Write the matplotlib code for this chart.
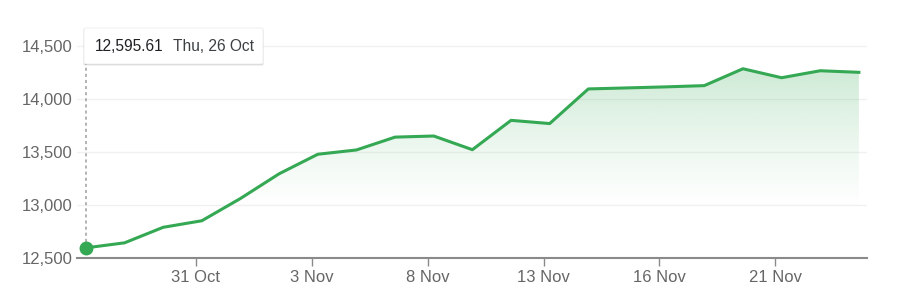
import matplotlib
matplotlib.use("Agg")
import matplotlib.pyplot as plt
import numpy as np
from matplotlib.patches import FancyBboxPatch, Polygon

dates = ["26 Oct", "27 Oct", "30 Oct", "31 Oct", "1 Nov", "2 Nov", "3 Nov",
         "6 Nov", "7 Nov", "8 Nov", "9 Nov", "10 Nov", "13 Nov", "14 Nov",
         "15 Nov", "16 Nov", "17 Nov", "20 Nov", "21 Nov", "22 Nov", "24 Nov"]
values = [12595.61, 12643.01, 12789.48, 12851.24, 13061.47, 13294.19, 13478.28,
          13518.78, 13639.86, 13650.41, 13521.45, 13798.11, 13767.74, 14094.38,
          14103.84, 14113.67, 14125.48, 14284.53, 14199.98, 14265.86, 14250.85]
tick_labels = ["31 Oct", "3 Nov", "8 Nov", "13 Nov", "16 Nov", "21 Nov"]
y_ticks = [12500, 13000, 13500, 14000, 14500]
tooltip_value = "12,595.61"
tooltip_date = "Thu, 26 Oct"

plt.rcParams['font.family'] = ['Liberation Sans', 'DejaVu Sans']

GREEN = "#34a853"
fig = plt.figure(figsize=(9.03, 3.03), dpi=100)
ax = fig.add_axes([77/903, 1-258/303, (867-77)/903, (258-30)/303])

x = np.arange(len(values))
ax.set_xlim(-0.23, len(values) - 1 + 0.21)
ax.set_ylim(12500, 14650)

# gradient fill
ymin, ymax = 12500, 14650
vals_y = np.linspace(ymin, ymax, 256)
alpha = np.clip((vals_y - 12950) / (14300 - 12950), 0, 1) ** 1.2 * 0.24
rgba = np.zeros((256, 1, 4))
rgba[..., 0] = 0x34 / 255
rgba[..., 1] = 0xa8 / 255
rgba[..., 2] = 0x53 / 255
rgba[..., 3] = alpha.reshape(-1, 1)
im = ax.imshow(rgba, extent=[x[0], x[-1], ymin, ymax], origin='lower',
               aspect='auto', zorder=1, interpolation='bilinear')
poly = Polygon(np.column_stack([np.r_[x[0], x, x[-1]],
                                np.r_[ymin, values, ymin]]),
               closed=True, transform=ax.transData, facecolor='none', edgecolor='none')
ax.add_patch(poly)
im.set_clip_path(poly)

ax.plot(x, values, color=GREEN, lw=2.2, zorder=3, solid_joinstyle='round')
ax.plot([x[0]], [values[0]], 'o', color=GREEN, ms=9, zorder=4)

# hover line
ax.plot([x[0], x[0]], [values[0], 14650], color="#9e9e9e", lw=1.1,
        ls=(0, (2, 2)), zorder=2, clip_on=False)

ax.set_yticks(y_ticks)
ax.set_yticklabels([f"{v:,}" for v in y_ticks])
ax.grid(axis='y', color="#f1f1f1", lw=1, zorder=0)
ax.set_axisbelow(True)

tick_pos = [dates.index(t) - 0.16 for t in tick_labels]
ax.set_xticks(tick_pos)
ax.set_xticklabels(tick_labels)

for s in ['top', 'right', 'left']:
    ax.spines[s].set_visible(False)
ax.spines['bottom'].set_color("#8a8a8a")
ax.spines['bottom'].set_linewidth(1.5)
ax.tick_params(axis='y', length=0, pad=3, labelsize=12, labelcolor="#666666")
ax.tick_params(axis='x', length=6, width=1, color="#8a8a8a", pad=3,
               labelsize=12, labelcolor="#666666")

# tooltip
bx0, by0, bx1, by1 = 84/903, 1-64/303, 263/903, 1-28/303
for i, a in enumerate([0.05, 0.07, 0.09]):
    off = (3 - i) * 0.6
    sh = FancyBboxPatch((bx0 - off/903 * 0.3, by0 - off/303), bx1 - bx0 + off*0.6/903,
                        by1 - by0, boxstyle="round,pad=0,rounding_size=0.003",
                        transform=fig.transFigure, facecolor="#000000", alpha=a,
                        edgecolor='none', zorder=9)
    fig.patches.append(sh)
box = FancyBboxPatch((bx0, by0), bx1 - bx0, by1 - by0,
                     boxstyle="round,pad=0,rounding_size=0.003",
                     transform=fig.transFigure, facecolor="white",
                     edgecolor="#ececec", lw=0.6, zorder=10)
fig.patches.append(box)
ymid = (by0 + by1) / 2 - 0.5/303
fig.text(95/903, ymid, tooltip_value, fontsize=11.2, color="#202124",
         va='center', ha='left', zorder=11)
fig.text(173/903, ymid, tooltip_date, fontsize=11.2, color="#3c4043",
         va='center', ha='left', zorder=11)

fig.savefig("out.png", dpi=100, facecolor="white")
